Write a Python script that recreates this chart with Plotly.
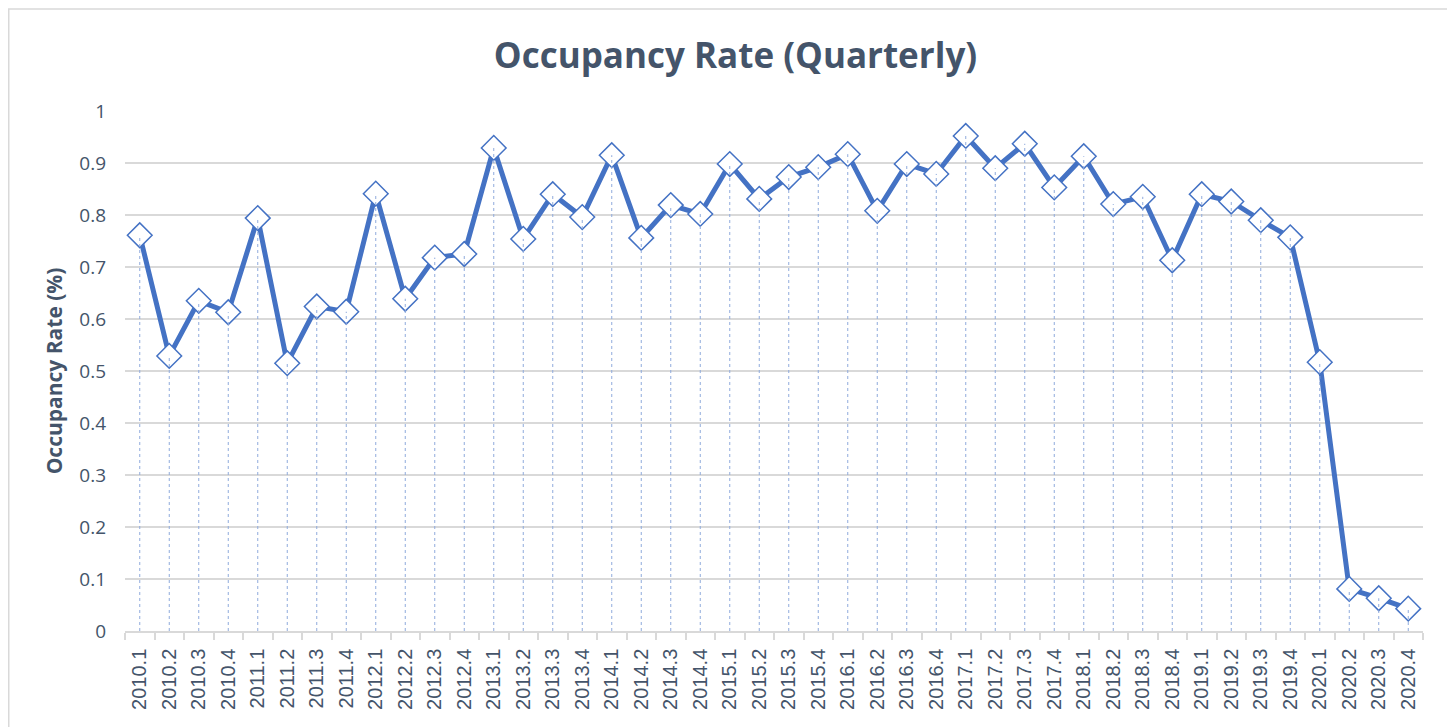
import plotly.graph_objects as go

quarters = [f"{y}.{q}" for y in range(2010, 2021) for q in range(1, 5)]
occupancy = [
    0.761, 0.529, 0.635, 0.613,
    0.794, 0.515, 0.624, 0.614,
    0.841, 0.639, 0.718, 0.725,
    0.929, 0.754, 0.840, 0.796,
    0.915, 0.756, 0.819, 0.802,
    0.898, 0.831, 0.873, 0.892,
    0.917, 0.808, 0.898, 0.879,
    0.952, 0.890, 0.937, 0.853,
    0.913, 0.821, 0.835, 0.713,
    0.840, 0.826, 0.790, 0.757,
    0.517, 0.081, 0.063, 0.043,
]
y_ticks = [0, 0.1, 0.2, 0.3, 0.4, 0.5, 0.6, 0.7, 0.8, 0.9, 1]
y_tick_text = ["0", "0.1", "0.2", "0.3", "0.4", "0.5", "0.6", "0.7", "0.8", "0.9", "1"]

blue = "#4472C4"
text_col = "#44546A"

# drop lines built from data
drop_x, drop_y = [], []
for q, v in zip(quarters, occupancy):
    drop_x += [q, q, None]
    drop_y += [0, v, None]

fig = go.Figure()
fig.add_trace(go.Scatter(
    x=quarters, y=occupancy, mode="lines",
    line=dict(color=blue, width=5), hoverinfo="skip", showlegend=False))
fig.add_trace(go.Scatter(
    x=quarters, y=occupancy, mode="markers",
    marker=dict(symbol="diamond", size=19, color="white",
                line=dict(color=blue, width=1.5)),
    showlegend=False))
fig.add_trace(go.Scatter(
    x=drop_x, y=drop_y, mode="lines",
    line=dict(color="#8FAADC", width=1, dash="dot"),
    hoverinfo="skip", showlegend=False))

L, T, R, B = 117, 103, 40, 104
W, H = 1455, 727
pw, ph = W - L - R, H - T - B

def px_to_paper_x(px):
    return (px - L) / pw

def px_to_paper_y(py):
    return (H - B - py) / ph

fig.update_layout(
    width=W, height=H,
    margin=dict(l=L, r=R, t=T, b=B),
    paper_bgcolor="white", plot_bgcolor="white",
    title=dict(text="<b>Occupancy Rate (Quarterly)</b>", x=0.5, xanchor="center",
               y=0.935, yanchor="middle",
               font=dict(family="Open Sans", size=35, color=text_col)),
    xaxis=dict(
        type="category", tickangle=-90,
        tickfont=dict(family="Liberation Sans, Arial", size=20, color=text_col),
        showgrid=False, showline=True, linecolor="#D9D9D9", linewidth=1.5,
        ticks="outside", tickson="boundaries", ticklen=7, tickcolor="#D9D9D9",
        tickwidth=1.5, range=[-0.5, len(quarters) - 0.5], zeroline=False,
        ticklabelstandoff=8,
    ),
    yaxis=dict(
        range=[0, 1], tickvals=y_ticks, ticktext=y_tick_text,
        tickfont=dict(family="Open Sans", size=19, color=text_col),
        showgrid=True, gridcolor="#D9D9D9", gridwidth=1.5,
        zeroline=False, showline=False, ticks="", ticklabelstandoff=18,
        title=dict(text="<b>Occupancy Rate (%)</b>", standoff=10,
                   font=dict(family="Open Sans", size=21, color=text_col)),
    ),
    shapes=[dict(type="rect", xref="paper", yref="paper",
                 x0=px_to_paper_x(0.75), x1=px_to_paper_x(1444),
                 y0=px_to_paper_y(735), y1=px_to_paper_y(1),
                 line=dict(color="#D9D9D9", width=1.5), fillcolor="rgba(0,0,0,0)",
                 layer="below")],
)

fig.write_html("out.html")
